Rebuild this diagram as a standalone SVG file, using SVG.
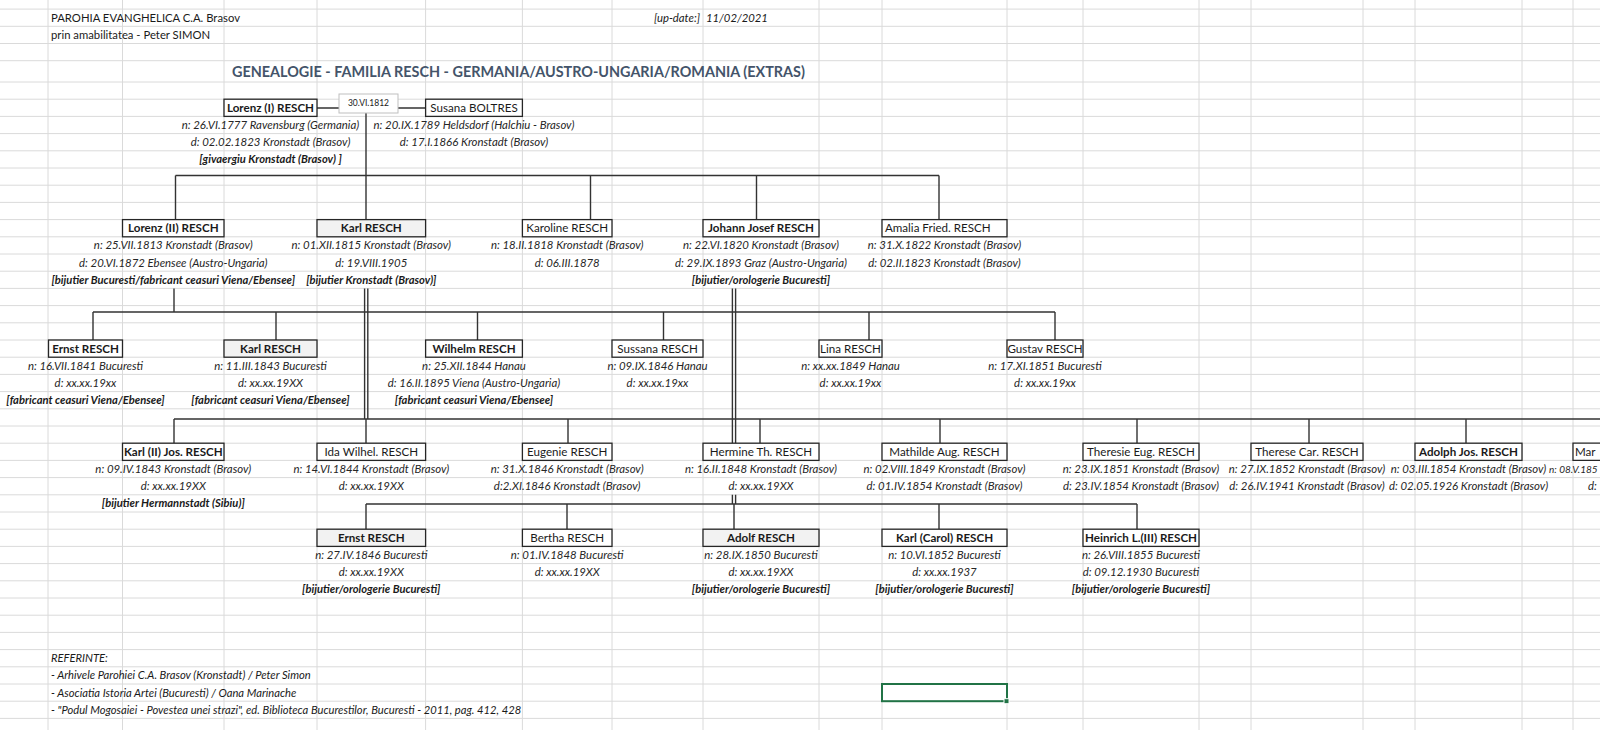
<svg xmlns="http://www.w3.org/2000/svg" width="1600" height="730" viewBox="0 0 1600 730">
<style>
.grid line{stroke:#DADADA;stroke-width:1}
.box{fill:#FFFFFF;stroke:#262626;stroke-width:1.3}
.gbox{fill:#F2F2F2;stroke:#262626;stroke-width:1.3}
text{font-family:Lato,"Open Sans","Liberation Sans",sans-serif;fill:#1a1a1a}
.nm{font-size:11.6px;text-anchor:middle}
.b{font-weight:bold}
.dt{font-size:11.4px;font-style:italic;text-anchor:middle;fill:#262626}
.oc{font-size:11.2px;font-style:italic;font-weight:bold;text-anchor:middle}
.conn path{stroke:#333;stroke-width:1.4;fill:none}
.hdr{font-size:11.3px}
.ref{font-size:11.2px;font-style:italic}
</style>
<rect width="1600" height="730" fill="#FFFFFF"/>
<g class="grid">
<line x1="48" y1="0" x2="48" y2="730"/><line x1="122.5" y1="0" x2="122.5" y2="730"/><line x1="224" y1="0" x2="224" y2="730"/><line x1="317" y1="0" x2="317" y2="730"/><line x1="425.6" y1="0" x2="425.6" y2="730"/><line x1="522.4" y1="0" x2="522.4" y2="730"/><line x1="612" y1="0" x2="612" y2="730"/><line x1="703" y1="0" x2="703" y2="730"/><line x1="819" y1="0" x2="819" y2="730"/><line x1="882" y1="0" x2="882" y2="730"/><line x1="1007" y1="0" x2="1007" y2="730"/><line x1="1083" y1="0" x2="1083" y2="730"/><line x1="1199" y1="0" x2="1199" y2="730"/><line x1="1251" y1="0" x2="1251" y2="730"/><line x1="1363" y1="0" x2="1363" y2="730"/><line x1="1415" y1="0" x2="1415" y2="730"/><line x1="1522" y1="0" x2="1522" y2="730"/><line x1="1573" y1="0" x2="1573" y2="730"/>
<line x1="0" y1="9.1" x2="1600" y2="9.1"/><line x1="0" y1="26.3" x2="1600" y2="26.3"/><line x1="0" y1="43.5" x2="1600" y2="43.5"/><line x1="0" y1="60.7" x2="1600" y2="60.7"/><line x1="0" y1="82" x2="1600" y2="82"/><line x1="0" y1="99.2" x2="1600" y2="99.2"/><line x1="0" y1="116.4" x2="1600" y2="116.4"/><line x1="0" y1="133.6" x2="1600" y2="133.6"/><line x1="0" y1="150.8" x2="1600" y2="150.8"/><line x1="0" y1="168" x2="1600" y2="168"/><line x1="0" y1="185.2" x2="1600" y2="185.2"/><line x1="0" y1="202.4" x2="1600" y2="202.4"/><line x1="0" y1="219.6" x2="1600" y2="219.6"/><line x1="0" y1="236.8" x2="1600" y2="236.8"/><line x1="0" y1="254" x2="1600" y2="254"/><line x1="0" y1="271.2" x2="1600" y2="271.2"/><line x1="0" y1="288.4" x2="1600" y2="288.4"/><line x1="0" y1="305.6" x2="1600" y2="305.6"/><line x1="0" y1="322.8" x2="1600" y2="322.8"/><line x1="0" y1="340" x2="1600" y2="340"/><line x1="0" y1="357.2" x2="1600" y2="357.2"/><line x1="0" y1="374.4" x2="1600" y2="374.4"/><line x1="0" y1="391.6" x2="1600" y2="391.6"/><line x1="0" y1="408.8" x2="1600" y2="408.8"/><line x1="0" y1="426" x2="1600" y2="426"/><line x1="0" y1="443.2" x2="1600" y2="443.2"/><line x1="0" y1="460.4" x2="1600" y2="460.4"/><line x1="0" y1="477.6" x2="1600" y2="477.6"/><line x1="0" y1="494.8" x2="1600" y2="494.8"/><line x1="0" y1="512" x2="1600" y2="512"/><line x1="0" y1="529.2" x2="1600" y2="529.2"/><line x1="0" y1="546.4" x2="1600" y2="546.4"/><line x1="0" y1="563.6" x2="1600" y2="563.6"/><line x1="0" y1="580.8" x2="1600" y2="580.8"/><line x1="0" y1="598" x2="1600" y2="598"/><line x1="0" y1="615.2" x2="1600" y2="615.2"/><line x1="0" y1="632.4" x2="1600" y2="632.4"/><line x1="0" y1="649.6" x2="1600" y2="649.6"/><line x1="0" y1="666.8" x2="1600" y2="666.8"/><line x1="0" y1="684" x2="1600" y2="684"/><line x1="0" y1="701.2" x2="1600" y2="701.2"/><line x1="0" y1="718.4" x2="1600" y2="718.4"/>
</g>

<g id="header">
<text class="hdr" x="51" y="21.8">PAROHIA EVANGHELICA C.A. Brasov</text>
<text class="hdr" x="51" y="39">prin amabilitatea - Peter SIMON</text>
<text class="hdr" x="700" y="21.8" style="font-style:italic;text-anchor:end">[up-date:]</text>
<text class="hdr" x="706" y="21.8" style="font-style:italic">11/02/2021</text>
<text x="232" y="76.5" style="font-size:14.4px;font-weight:bold;fill:#44546A">GENEALOGIE - FAMILIA RESCH - GERMANIA/AUSTRO-UNGARIA/ROMANIA (EXTRAS)</text>
</g>

<g class="conn">
<path d="M317 108H339M398 108H426M366 113V219.6M175.5 175.5H939M175.5 175.5V219.6M590.5 175.5V219.6M756.5 175.5V219.6M939 175.5V219.6"/>
<path d="M174 288.4V312M93 312H1055M93 312V340M276 312V340M477.5 312V340M663.5 312V340M869 312V340M1055 312V340"/>
<path d="M364.6 288.4V419M367.8 288.4V419M732.4 288.4V443.2M735.6 288.4V443.2M732.4 494.8V504M735.6 494.8V504"/>
<path d="M174 419H1600M174 419V443.2M366 419V443.2M568 419V443.2M760 419V443.2M940 419V443.2M1137 419V443.2M1309 419V443.2M1466 419V443.2"/>
<path d="M366 504H1137M366 504V529.2M567 504V529.2M734 504V529.2M939 504V529.2M1137 504V529.2"/>
</g>

<g id="marriage-date">
<rect x="339" y="94" width="59" height="19" fill="#FFFFFF" stroke="#BFBFBF" stroke-width="1"/>
<text x="368.5" y="106" style="font-size:8.5px;text-anchor:middle">30.VI.1812</text>
</g>

<g id="lorenz1">
<rect class="box" x="224" y="99.2" width="93" height="17.2"/>
<text class="nm b" x="270.5" y="112">Lorenz (I) RESCH</text>
<text class="dt" x="270.5" y="128.9">n: 26.VI.1777 Ravensburg (Germania)</text>
<text class="dt" x="270.5" y="146.1">d: 02.02.1823 Kronstadt (Brasov)</text>
<text class="oc" x="270.5" y="163.3">[givaergiu Kronstadt (Brasov) ]</text>
</g>
<g id="susana">
<rect class="box" x="425.6" y="99.2" width="96.8" height="17.2"/>
<text class="nm" x="474" y="112">Susana BOLTRES</text>
<text class="dt" x="474" y="128.9">n: 20.IX.1789 Heldsdorf (Halchiu - Brasov)</text>
<text class="dt" x="474" y="146.1">d: 17.I.1866 Kronstadt (Brasov)</text>
</g>

<g id="lorenz2">
<rect class="box" x="122.5" y="219.6" width="101.5" height="17.2"/>
<text class="nm b" x="173.3" y="232.4">Lorenz (II) RESCH</text>
<text class="dt" x="173.3" y="249.3">n: 25.VII.1813 Kronstadt (Brasov)</text>
<text class="dt" x="173.3" y="266.5">d: 20.VI.1872 Ebensee (Austro-Ungaria)</text>
<text class="oc" x="173.3" y="283.7">[bijutier Bucuresti/fabricant ceasuri Viena/Ebensee]</text>
</g>
<g id="karl1">
<rect class="gbox" x="317" y="219.6" width="108.6" height="17.2"/>
<text class="nm b" x="371.3" y="232.4">Karl RESCH</text>
<text class="dt" x="371.3" y="249.3">n: 01.XII.1815 Kronstadt (Brasov)</text>
<text class="dt" x="371.3" y="266.5">d: 19.VIII.1905</text>
<text class="oc" x="371.3" y="283.7">[bijutier Kronstadt (Brasov)]</text>
</g>
<g id="karoline">
<rect class="box" x="522.4" y="219.6" width="89.6" height="17.2"/>
<text class="nm" x="567.2" y="232.4">Karoline RESCH</text>
<text class="dt" x="567.2" y="249.3">n: 18.II.1818 Kronstadt (Brasov)</text>
<text class="dt" x="567.2" y="266.5">d: 06.III.1878</text>
</g>
<g id="johann">
<rect class="box" x="703" y="219.6" width="116" height="17.2"/>
<text class="nm b" x="761" y="232.4">Johann Josef RESCH</text>
<text class="dt" x="761" y="249.3">n: 22.VI.1820 Kronstadt (Brasov)</text>
<text class="dt" x="761" y="266.5">d: 29.IX.1893 Graz (Austro-Ungaria)</text>
<text class="oc" x="761" y="283.7">[bijutier/orologerie Bucuresti]</text>
</g>
<g id="amalia">
<rect class="box" x="882" y="219.6" width="125" height="17.2"/>
<text class="nm" x="885" y="232.4" style="text-anchor:start">Amalia Fried. RESCH</text>
<text class="dt" x="944.5" y="249.3">n: 31.X.1822 Kronstadt (Brasov)</text>
<text class="dt" x="944.5" y="266.5">d: 02.II.1823 Kronstadt (Brasov)</text>
</g>

<g id="ernst1">
<rect class="box" x="48.5" y="340" width="74" height="17.2"/>
<text class="nm b" x="85.5" y="352.8">Ernst RESCH</text>
<text class="dt" x="85.5" y="369.7">n: 16.VII.1841 Bucuresti</text>
<text class="dt" x="85.5" y="386.9">d: xx.xx.19xx</text>
<text class="oc" x="85.5" y="404.1">[fabricant ceasuri Viena/Ebensee]</text>
</g>
<g id="karl2">
<rect class="gbox" x="224" y="340" width="93" height="17.2"/>
<text class="nm b" x="270.5" y="352.8">Karl RESCH</text>
<text class="dt" x="270.5" y="369.7">n: 11.III.1843 Bucuresti</text>
<text class="dt" x="270.5" y="386.9">d: xx.xx.19XX</text>
<text class="oc" x="270.5" y="404.1">[fabricant ceasuri Viena/Ebensee]</text>
</g>
<g id="wilhelm">
<rect class="box" x="425.6" y="340" width="96.8" height="17.2"/>
<text class="nm b" x="474" y="352.8">Wilhelm RESCH</text>
<text class="dt" x="474" y="369.7">n: 25.XII.1844 Hanau</text>
<text class="dt" x="474" y="386.9">d: 16.II.1895 Viena (Austro-Ungaria)</text>
<text class="oc" x="474" y="404.1">[fabricant ceasuri Viena/Ebensee]</text>
</g>
<g id="sussana">
<rect class="box" x="612" y="340" width="91" height="17.2"/>
<text class="nm" x="657.5" y="352.8">Sussana RESCH</text>
<text class="dt" x="657.5" y="369.7">n: 09.IX.1846 Hanau</text>
<text class="dt" x="657.5" y="386.9">d: xx.xx.19xx</text>
</g>
<g id="lina">
<rect class="box" x="819" y="340" width="63" height="17.2"/>
<text class="nm" x="850.5" y="352.8">Lina RESCH</text>
<text class="dt" x="850.5" y="369.7">n: xx.xx.1849 Hanau</text>
<text class="dt" x="850.5" y="386.9">d: xx.xx.19xx</text>
</g>
<g id="gustav">
<rect class="box" x="1007" y="340" width="76" height="17.2"/>
<text class="nm" x="1045" y="352.8">Gustav RESCH</text>
<text class="dt" x="1045" y="369.7">n: 17.XI.1851 Bucuresti</text>
<text class="dt" x="1045" y="386.9">d: xx.xx.19xx</text>
</g>

<g id="karl3">
<rect class="box" x="122.5" y="443.2" width="101.5" height="17.2"/>
<text class="nm b" x="173.3" y="456">Karl (II) Jos. RESCH</text>
<text class="dt" x="173.3" y="472.9">n: 09.IV.1843 Kronstadt (Brasov)</text>
<text class="dt" x="173.3" y="490.1">d: xx.xx.19XX</text>
<text class="oc" x="173.3" y="507.3">[bijutier Hermannstadt (Sibiu)]</text>
</g>
<g id="ida">
<rect class="box" x="317" y="443.2" width="108.6" height="17.2"/>
<text class="nm" x="371.3" y="456">Ida Wilhel. RESCH</text>
<text class="dt" x="371.3" y="472.9">n: 14.VI.1844 Kronstadt (Brasov)</text>
<text class="dt" x="371.3" y="490.1">d: xx.xx.19XX</text>
</g>
<g id="eugenie">
<rect class="box" x="522.4" y="443.2" width="89.6" height="17.2"/>
<text class="nm" x="567.2" y="456">Eugenie RESCH</text>
<text class="dt" x="567.2" y="472.9">n: 31.X.1846 Kronstadt (Brasov)</text>
<text class="dt" x="567.2" y="490.1">d:2.XI.1846 Kronstadt (Brasov)</text>
</g>
<g id="hermine">
<rect class="box" x="703" y="443.2" width="116" height="17.2"/>
<text class="nm" x="761" y="456">Hermine Th. RESCH</text>
<text class="dt" x="761" y="472.9">n: 16.II.1848 Kronstadt (Brasov)</text>
<text class="dt" x="761" y="490.1">d: xx.xx.19XX</text>
</g>
<g id="mathilde">
<rect class="box" x="882" y="443.2" width="125" height="17.2"/>
<text class="nm" x="944.5" y="456">Mathilde Aug. RESCH</text>
<text class="dt" x="944.5" y="472.9">n: 02.VIII.1849 Kronstadt (Brasov)</text>
<text class="dt" x="944.5" y="490.1">d: 01.IV.1854 Kronstadt (Brasov)</text>
</g>
<g id="theresie">
<rect class="box" x="1083" y="443.2" width="116" height="17.2"/>
<text class="nm" x="1141" y="456">Theresie Eug. RESCH</text>
<text class="dt" x="1141" y="472.9">n: 23.IX.1851 Kronstadt (Brasov)</text>
<text class="dt" x="1141" y="490.1">d: 23.IV.1854 Kronstadt (Brasov)</text>
</g>
<g id="therese">
<rect class="box" x="1251" y="443.2" width="112" height="17.2"/>
<text class="nm" x="1307" y="456">Therese Car. RESCH</text>
<text class="dt" x="1307" y="472.9">n: 27.IX.1852 Kronstadt (Brasov)</text>
<text class="dt" x="1307" y="490.1">d: 26.IV.1941 Kronstadt (Brasov)</text>
</g>
<g id="adolph">
<rect class="box" x="1415" y="443.2" width="107" height="17.2"/>
<text class="nm b" x="1468.5" y="456">Adolph Jos. RESCH</text>
<text class="dt" x="1468.5" y="472.9">n: 03.III.1854 Kronstadt (Brasov)</text>
<text class="dt" x="1468.5" y="490.1">d: 02.05.1926 Kronstadt (Brasov)</text>
</g>
<g id="mar">
<path d="M1600 443.2H1573V460.4H1600" fill="#FFFFFF" stroke="#262626" stroke-width="1.3"/>
<text class="nm" x="1575" y="456" style="text-anchor:start">Mar</text>
<text class="dt" x="1549" y="472.9" style="text-anchor:start;font-size:10px">n: 08.V.185</text>
<text class="dt" x="1588" y="490.1" style="text-anchor:start">d:</text>
</g>

<g id="ernst2">
<rect class="gbox" x="317" y="529.2" width="108.6" height="17.2"/>
<text class="nm b" x="371.3" y="542">Ernst RESCH</text>
<text class="dt" x="371.3" y="558.9">n: 27.IV.1846 Bucuresti</text>
<text class="dt" x="371.3" y="576.1">d: xx.xx.19XX</text>
<text class="oc" x="371.3" y="593.3">[bijutier/orologerie Bucuresti]</text>
</g>
<g id="bertha">
<rect class="box" x="522.4" y="529.2" width="89.6" height="17.2"/>
<text class="nm" x="567.2" y="542">Bertha RESCH</text>
<text class="dt" x="567.2" y="558.9">n: 01.IV.1848 Bucuresti</text>
<text class="dt" x="567.2" y="576.1">d: xx.xx.19XX</text>
</g>
<g id="adolf">
<rect class="gbox" x="703" y="529.2" width="116" height="17.2"/>
<text class="nm b" x="761" y="542">Adolf RESCH</text>
<text class="dt" x="761" y="558.9">n: 28.IX.1850 Bucuresti</text>
<text class="dt" x="761" y="576.1">d: xx.xx.19XX</text>
<text class="oc" x="761" y="593.3">[bijutier/orologerie Bucuresti]</text>
</g>
<g id="karlcarol">
<rect class="box" x="882" y="529.2" width="125" height="17.2"/>
<text class="nm b" x="944.5" y="542">Karl (Carol) RESCH</text>
<text class="dt" x="944.5" y="558.9">n: 10.VI.1852 Bucuresti</text>
<text class="dt" x="944.5" y="576.1">d: xx.xx.1937</text>
<text class="oc" x="944.5" y="593.3">[bijutier/orologerie Bucuresti]</text>
</g>
<g id="heinrich">
<rect class="box" x="1083" y="529.2" width="116" height="17.2"/>
<text class="nm b" x="1141" y="542">Heinrich L.(III) RESCH</text>
<text class="dt" x="1141" y="558.9">n: 26.VIII.1855 Bucuresti</text>
<text class="dt" x="1141" y="576.1">d: 09.12.1930 Bucuresti</text>
<text class="oc" x="1141" y="593.3">[bijutier/orologerie Bucuresti]</text>
</g>

<g id="references">
<text class="ref" x="51" y="662.1">REFERINTE:</text>
<text class="ref" x="51" y="679.3">- Arhivele Parohiei C.A. Brasov (Kronstadt) / Peter Simon</text>
<text class="ref" x="51" y="696.5">- Asociatia Istoria Artei (Bucuresti) / Oana Marinache</text>
<text class="ref" x="51" y="713.7">- "Podul Mogosaiei - Povestea unei strazi", ed. Biblioteca Bucurestilor, Bucuresti - 2011, pag. 412, 428</text>
</g>

<g id="selection">
<rect x="882" y="684" width="125" height="17.2" fill="none" stroke="#217346" stroke-width="2"/>
<rect x="1004" y="698.7" width="5" height="5" fill="#217346" stroke="#FFFFFF" stroke-width="1"/>
</g>
</svg>
